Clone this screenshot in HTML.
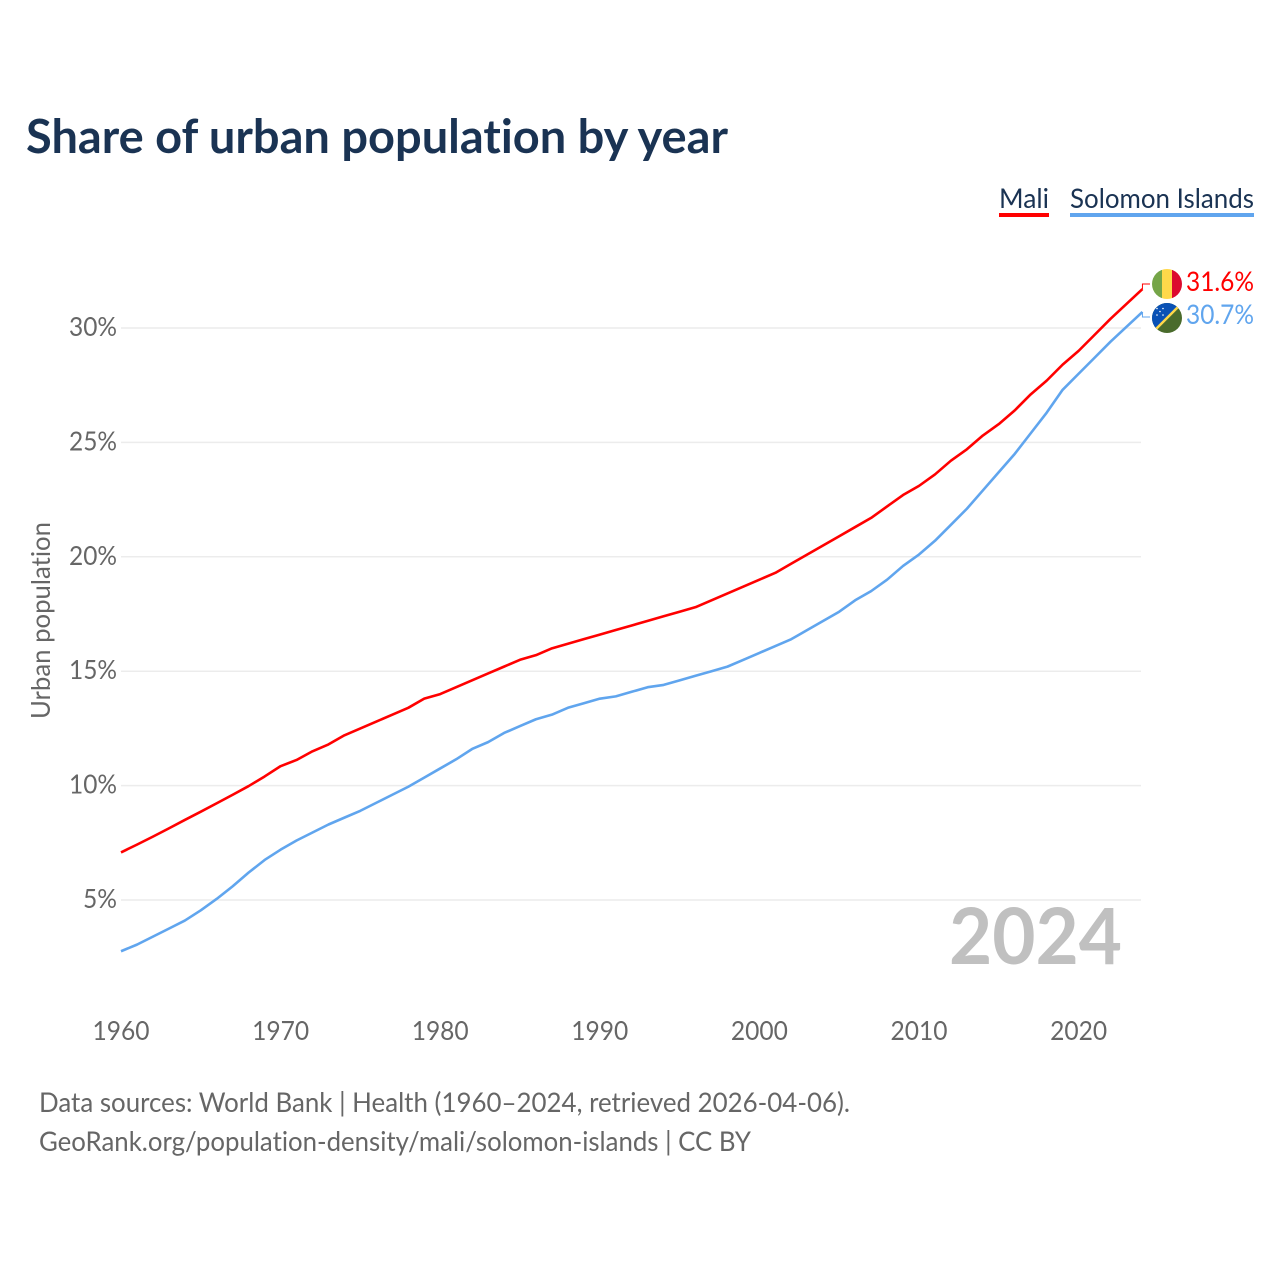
<!DOCTYPE html>
<html>
<head>
<meta charset="utf-8">
<title>Share of urban population by year</title>
<style>
html,body{margin:0;padding:0;background:#fff;width:1280px;height:1280px;overflow:hidden}
svg{display:block;font-family:"Lato","Carlito","Liberation Sans",sans-serif;font-variant-ligatures:none}
</style>
</head>
<body>
<svg id="chart" width="1280" height="1280" viewBox="0 0 1280 1280" xmlns="http://www.w3.org/2000/svg">
  <text x="26" y="153" font-size="47" font-weight="700" fill="#1a3353" textLength="702" lengthAdjust="spacingAndGlyphs">Share of urban population by year</text>

  <text x="999" y="208" font-size="27" fill="#1a3353" textLength="50" lengthAdjust="spacingAndGlyphs">Mali</text>
  <rect x="999" y="213" width="50" height="4" fill="#ff0000"/>
  <text x="1070" y="208" font-size="27" fill="#1a3353" textLength="184" lengthAdjust="spacingAndGlyphs">Solomon Islands</text>
  <rect x="1070" y="213" width="184" height="4" fill="#60a5ee"/>

  <g id="grid"></g>
  <g id="yticks"></g>
  <g id="xticks"></g>

  <text transform="translate(50,719) rotate(-90)" font-size="26" fill="#666666" textLength="197" lengthAdjust="spacingAndGlyphs">Urban population</text>

  <text x="1122" y="964" text-anchor="end" font-size="78" font-weight="700" fill="#c0c0c0" textLength="173" lengthAdjust="spacingAndGlyphs">2024</text>

  <g id="series"></g>

  <defs>
    <clipPath id="clip-mali"><circle cx="1167" cy="284" r="15"/></clipPath>
    <clipPath id="clip-solomon"><circle cx="1167" cy="318" r="15"/></clipPath>
  </defs>
  <g clip-path="url(#clip-mali)">
    <rect x="1152" y="269" width="10" height="30" fill="#75a548"/>
    <rect x="1162" y="269" width="10" height="30" fill="#ffd84a"/>
    <rect x="1172" y="269" width="10" height="30" fill="#dc0a2e"/>
  </g>
  <g clip-path="url(#clip-solomon)">
    <rect x="1152" y="303" width="30" height="30" fill="#4a6b2c"/>
    <polygon points="1152,303 1182,303 1152,333" fill="#0a51b5"/>
    <line x1="1152" y1="333" x2="1182" y2="303" stroke="#ffd84a" stroke-width="2.500"/>
    <g fill="#ffffff">
      <circle cx="1157" cy="315" r="0.800"/><circle cx="1163" cy="315" r="0.800"/>
      <circle cx="1160" cy="311.500" r="0.800"/><circle cx="1157" cy="308.500" r="0.800"/><circle cx="1163" cy="308.500" r="0.800"/>
    </g>
  </g>
  <text x="1186" y="291" font-size="27" fill="#ff0000" textLength="68" lengthAdjust="spacingAndGlyphs">31.6%</text>
  <text x="1186" y="324" font-size="27" fill="#60a5ee" textLength="68" lengthAdjust="spacingAndGlyphs">30.7%</text>

  <text x="39" y="1112" font-size="27" fill="#666666" textLength="811" lengthAdjust="spacingAndGlyphs">Data sources: World Bank | Health (1960–2024, retrieved 2026-04-06).</text>
  <text x="39" y="1151" font-size="27" fill="#666666" textLength="712" lengthAdjust="spacingAndGlyphs">GeoRank.org/population-density/mali/solomon-islands | CC BY</text>
</svg>
<script>
const startYear = 1960;
const xTickYears = [1960, 1970, 1980, 1990, 2000, 2010, 2020];
const yTickValues = [5, 10, 15, 20, 25, 30];
const maliValues = [7.08,7.42,7.77,8.13,8.5,8.86,9.23,9.6,9.98,10.4,10.85,11.12,11.5,11.8,12.2,12.5,12.8,13.1,13.4,13.8,14.0,14.3,14.6,14.9,15.2,15.5,15.7,16.0,16.2,16.4,16.6,16.8,17.0,17.2,17.4,17.6,17.8,18.1,18.4,18.7,19.0,19.3,19.7,20.1,20.5,20.9,21.3,21.7,22.2,22.7,23.1,23.6,24.2,24.7,25.3,25.8,26.4,27.1,27.7,28.4,29.0,29.7,30.4,31.05,31.7];
const solomonValues = [2.76,3.05,3.4,3.75,4.1,4.55,5.05,5.6,6.2,6.75,7.2,7.6,7.95,8.3,8.6,8.9,9.25,9.6,9.95,10.35,10.75,11.15,11.6,11.9,12.3,12.6,12.9,13.1,13.4,13.6,13.8,13.9,14.1,14.3,14.4,14.6,14.8,15.0,15.2,15.5,15.8,16.1,16.4,16.8,17.2,17.6,18.1,18.5,19.0,19.6,20.1,20.7,21.4,22.1,22.9,23.7,24.5,25.4,26.3,27.3,28.0,28.7,29.4,30.05,30.7];

const NS = 'http://www.w3.org/2000/svg';
function xScale(year) { return 121 + (year - 1960) * 15.96; }
function yScale(value) { return 1014.4 - value * 22.88; }
function make(tag, attrs, parent) {
  const el = document.createElementNS(NS, tag);
  for (const k in attrs) el.setAttribute(k, attrs[k]);
  parent.appendChild(el);
  return el;
}

const gridGroup = document.getElementById('grid');
const yGroup = document.getElementById('yticks');
yTickValues.forEach(function (v) {
  const line = make('line', {x1: 121, x2: 1141, y1: yScale(v), y2: yScale(v), stroke: '#ececec', 'stroke-width': 1.5}, gridGroup);
  
  
  const label = make('text', {x: 117, y: yScale(v) + 8, 'text-anchor': 'end', 'font-size': 26.5, fill: '#666666', textLength: v < 10 ? 34 : 48, lengthAdjust: 'spacingAndGlyphs'}, yGroup);
  
  
  label.textContent = v + '%';
});

const xGroup = document.getElementById('xticks');
xTickYears.forEach(function (year) {
  const label = make('text', {x: xScale(year), y: 1040, 'text-anchor': 'middle', 'font-size': 26.5, fill: '#666666', textLength: 57, lengthAdjust: 'spacingAndGlyphs'}, xGroup);
  
  
  label.textContent = year;
});

function linePath(values) {
  return values.map(function (v, i) {
    return (i ? 'L' : 'M') + xScale(startYear + i).toFixed(2) + ',' + yScale(v).toFixed(2);
  }).join('');
}
const seriesGroup = document.getElementById('series');

const maliLine = make('path', {d: linePath(maliValues), fill: 'none', stroke: '#ff0000', 'stroke-width': 2.6, 'stroke-linejoin': 'round'}, seriesGroup);



const solomonLine = make('path', {d: linePath(solomonValues), fill: 'none', stroke: '#60a5ee', 'stroke-width': 2.6, 'stroke-linejoin': 'round'}, seriesGroup);



const endX = xScale(startYear + maliValues.length - 1);
const maliLeader = make('path', {d: 'M' + endX + ',' + yScale(maliValues[maliValues.length - 1]) + 'V284H1150', fill: 'none', stroke: '#ff0000', 'stroke-width': 1}, seriesGroup);



const solomonLeader = make('path', {d: 'M' + endX + ',' + yScale(solomonValues[solomonValues.length - 1]) + 'V317H1150', fill: 'none', stroke: '#60a5ee', 'stroke-width': 1}, seriesGroup);


</script>
</body>
</html>
